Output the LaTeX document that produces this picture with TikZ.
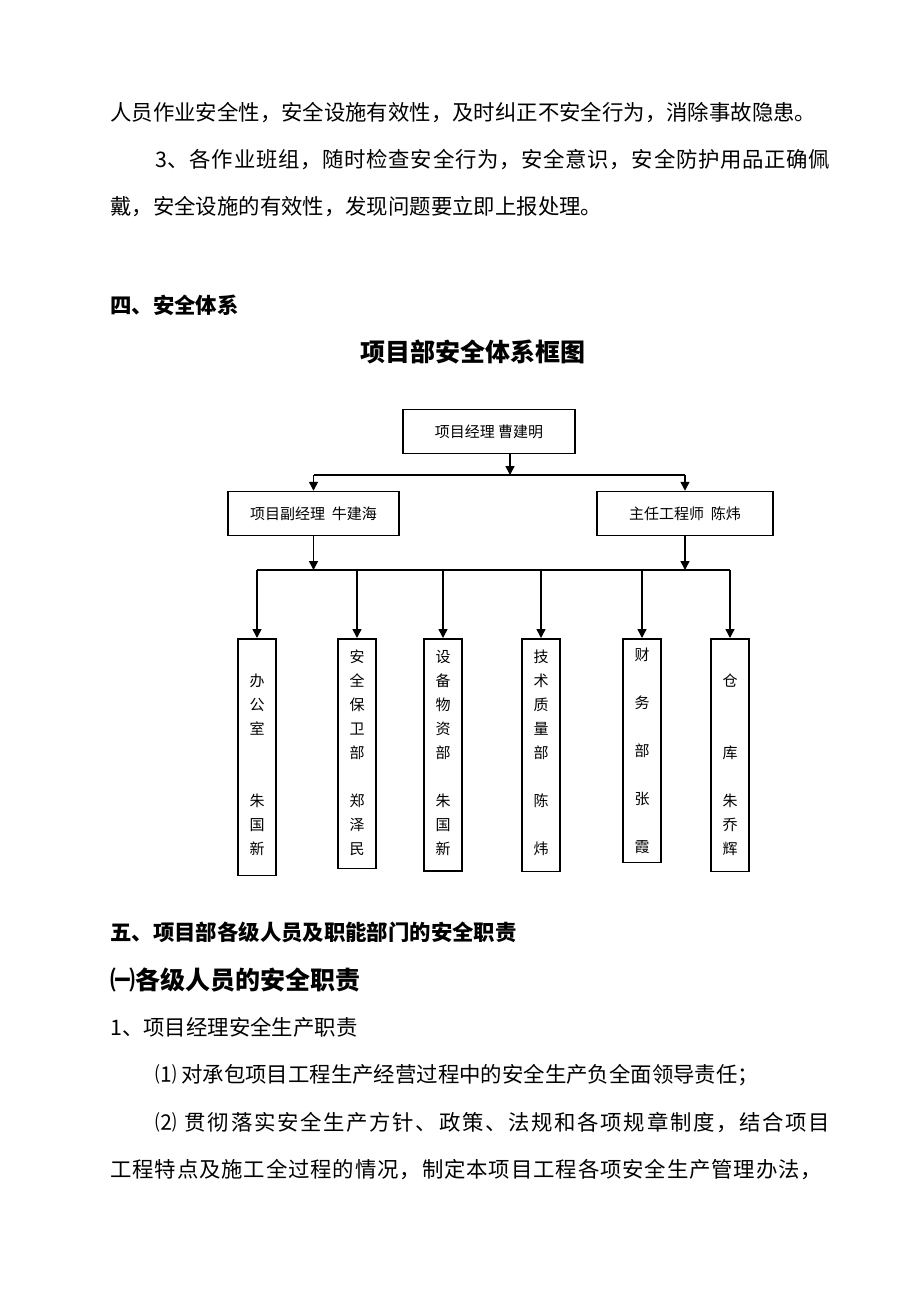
\documentclass[tikz,border=0pt]{standalone}
\usepackage{fontspec}
\usetikzlibrary{arrows.meta}
\newfontfamily\cjk{Noto Sans CJK SC}
\newcommand{\bodysize}{21.4}
\newcommand{\bigsize}{25}
% spread the characters of a line over a given width
\newcommand{\spreadline}[2]{\hbox to #1{\spreadfirst#2\relax}}
\def\spreadfirst#1{#1\spreadnext}
\def\spreadnext#1{\ifx#1\relax\else\hfil#1\expandafter\spreadnext\fi}
% deepen the last line of a column
\newcommand{\sink}[1]{\rule[-#1]{0pt}{#1}}
\tikzset{post/.style={draw,line width=1.5pt,minimum width=#1,minimum height=44pt,inner sep=0pt,font=\cjk\fontsize{15}{18}\selectfont},post/.default=172pt}
\tikzset{dept/.style={draw,line width=1.5pt,minimum width=38pt,inner xsep=0pt,inner ysep=11pt,anchor=north,align=center,font=\cjk\fontsize{15}{24}\selectfont}}
\tikzset{wire/.style={line width=1.5pt}}
\tikzset{feed/.style={wire,-{Triangle[length=9pt,width=9pt]}}}
\tikzset{prose/.style={anchor=west,inner sep=0pt,font=\cjk\fontsize{#1}{#1}\selectfont},prose/.default=\bodysize}
\tikzset{heading/.style={prose=#1,font=\cjk\bfseries\fontsize{#1}{#1}\selectfont},heading/.default=\bodysize}

\begin{document}
\begin{tikzpicture}[x=1pt,y=-1pt]
	\useasboundingbox (0,0) rectangle (920,1302);
	\fill[white] (0,0) rectangle (920,1302);

	% text above the chart
	\node[prose] (l1) at (110,113) {人员作业安全性，安全设施有效性，及时纠正不安全行为，消除事故隐患。};
	\node[prose] (l2) at (155,160) {\spreadline{675pt}{3、各作业班组，随时检查安全行为，安全意识，安全防护用品正确佩}};
	\node[prose] (l3) at (110,207) {戴，安全设施的有效性，发现问题要立即上报处理。};
	\node[heading] (h4) at (110,305) {四、安全体系};
	\node[heading=\bigsize,anchor=center] (title) at (473,352) {项目部安全体系框图};

	% chart
	\node[post] (boss) at (489,431.5) {项目经理 曹建明};
	\node[post=171pt] (deputy) at (313.5,513.5) {项目副经理\ \ 牛建海};
	\node[post=176pt] (chief) at (685,513.5) {主任工程师\ \ 陈炜};
	\coordinate (tap) at (510,475);
	\coordinate (bus) at (0,570);

	\node[dept] (d1) at (257,638) {\vphantom{办}\\办\\公\\室\\[48pt]朱\\国\\新\sink{10pt}};
	\node[dept] (d2) at (357,638) {安\\全\\保\\卫\\部\\[24pt]郑\\泽\\民\sink{3pt}};
	\node[dept] (d3) at (443,638) {设\\备\\物\\资\\部\\[24pt]朱\\国\\新\sink{6pt}};
	\node[dept] (d4) at (541,638) {技\\术\\质\\量\\部\\[24pt]陈\\[24pt]炜\sink{6pt}};
	\node[dept,inner ysep=9pt] (d5) at (642,638) {财\\[24pt]务\\[24pt]部\\[24pt]张\\[24pt]霞};
	\node[dept] (d6) at (730,638) {\vphantom{仓}\\仓\\[48pt]库\\[24pt]朱\\乔\\辉\sink{6pt}};

	\draw[feed] (tap |- boss.south) -- (tap);
	\draw[wire] (deputy.north |- tap) -- (chief.north |- tap);
	\draw[feed] (deputy.north |- tap) -- (deputy);
	\draw[feed] (chief.north |- tap) -- (chief);
	\draw[feed] (deputy) -- (deputy.south |- bus);
	\draw[feed] (chief) -- (chief.south |- bus);
	\draw[wire] (d1.north |- bus) -- (d6.north |- bus);
	\foreach \d in {d1,d2,d3,d4,d5,d6}
		\draw[feed] (\d.north |- bus) -- (\d);

	% text below the chart
	\node[heading] (h5) at (110,932) {五、项目部各级人员及职能部门的安全职责};
	\node[heading=\bigsize] (h6) at (110,980) {㈠各级人员的安全职责};
	\node[prose] (l4) at (110,1027) {1、项目经理安全生产职责};
	\node[prose] (l5) at (155,1075) {⑴ 对承包项目工程生产经营过程中的安全生产负全面领导责任；};
	\node[prose] (l6) at (155,1122) {\spreadline{675pt}{⑵~贯彻落实安全生产方针、政策、法规和各项规章制度，结合项目}};
	\node[prose] (l7) at (110,1170) {\spreadline{712pt}{工程特点及施工全过程的情况，制定本项目工程各项安全生产管理办法，}};
\end{tikzpicture}
\end{document}
